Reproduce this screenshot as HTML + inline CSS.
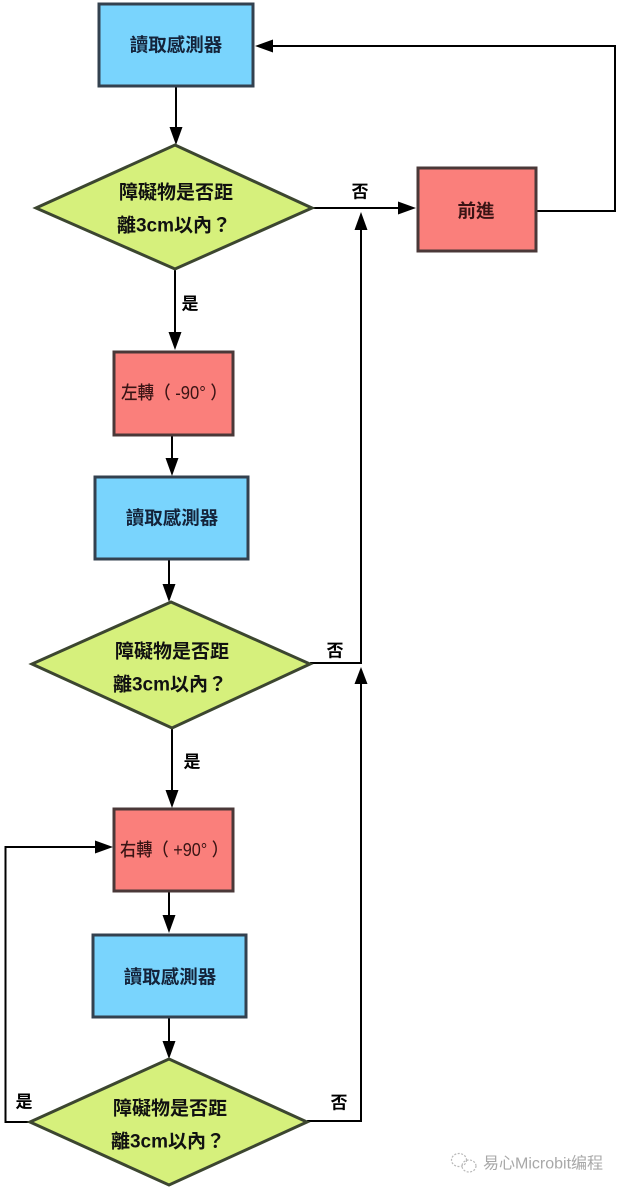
<!DOCTYPE html>
<html>
<head>
<meta charset="utf-8">
<style>
  html, body { margin:0; padding:0; background:#ffffff; }
  body { width:620px; height:1190px; overflow:hidden; }
  svg { display:block; }
  .t { font-family: "Liberation Sans", "Noto Sans CJK TC", "Noto Sans CJK SC", sans-serif; font-weight:bold; }
</style>
</head>
<body>
<svg width="620" height="1190" viewBox="0 0 620 1190" xmlns="http://www.w3.org/2000/svg">
  <rect x="0" y="0" width="620" height="1190" fill="#ffffff"/>

  <!-- Connectors -->
  <g stroke="#000" stroke-width="2" fill="none">
    <line x1="176" y1="86" x2="176" y2="130"/>
    <line x1="312" y1="208" x2="400" y2="208"/>
    <polyline points="536,211 615,211 615,46 270,46"/>
    <line x1="175" y1="269" x2="175" y2="335"/>
    <line x1="172" y1="435" x2="172" y2="461"/>
    <line x1="169" y1="559" x2="169" y2="587"/>
    <polyline points="310,663 361,663 361,228"/>
    <line x1="172" y1="728" x2="172" y2="793"/>
    <line x1="169" y1="891" x2="169" y2="918"/>
    <line x1="169" y1="1017" x2="169" y2="1044"/>
    <polyline points="307,1121 361,1121 361,683"/>
    <polyline points="30,1122 5.5,1122 5.5,847 97,847"/>
  </g>

  <!-- Arrowheads -->
  <g fill="#000">
    <polygon points="169.5,127 182.5,127 176,145"/>
    <polygon points="398,201.5 398,214.5 416,208"/>
    <polygon points="273,39.5 273,52.5 255,46"/>
    <polygon points="168.5,332 181.5,332 175,350"/>
    <polygon points="165.5,458 178.5,458 172,476"/>
    <polygon points="162.5,584 175.5,584 169,602"/>
    <polygon points="354.5,230 367.5,230 361,212"/>
    <polygon points="165.5,790 178.5,790 172,808"/>
    <polygon points="162.5,915 175.5,915 169,933"/>
    <polygon points="162.5,1041 175.5,1041 169,1059"/>
    <polygon points="354.5,684 367.5,684 361,667"/>
    <polygon points="95,840.5 95,853.5 113,847"/>
  </g>

  <!-- Nodes -->
  <rect x="99" y="4" width="154" height="82" fill="#79d4fd" stroke="#33414f" stroke-width="3"/>
  <polygon points="175,145 312,208 175,269 36,208" fill="#d6f07c" stroke="#3c4630" stroke-width="3"/>
  <rect x="418" y="168" width="118" height="83" fill="#fa7f7b" stroke="#4a3838" stroke-width="3"/>
  <rect x="114" y="352" width="119" height="83" fill="#fa7f7b" stroke="#4a3838" stroke-width="3"/>
  <rect x="95" y="477" width="153" height="82" fill="#79d4fd" stroke="#33414f" stroke-width="3"/>
  <polygon points="171,602 310,664 172,728 32,664" fill="#d6f07c" stroke="#3c4630" stroke-width="3"/>
  <rect x="114" y="809" width="119" height="82" fill="#fa7f7b" stroke="#4a3838" stroke-width="3"/>
  <rect x="93" y="935" width="153" height="82" fill="#79d4fd" stroke="#33414f" stroke-width="3"/>
  <polygon points="169,1059 307,1122 169,1185 30,1122" fill="#d6f07c" stroke="#3c4630" stroke-width="3"/>

  <!-- Node texts -->
  <g class="t" font-size="18.5" text-anchor="middle" dominant-baseline="central">
    <text x="176" y="45" fill="#14233a">讀取感測器</text>
    <text x="176" y="193" fill="#111" font-size="19">障礙物是否距</text>
    <text x="174" y="226" fill="#111" font-size="19">離3cm以內？</text>
    <text x="476" y="211" fill="#3a1414">前進</text>
    <text x="174" y="393" fill="#3a1414" font-weight="500" font-size="18" textLength="106" lengthAdjust="spacingAndGlyphs">左轉（ -90° ）</text>
    <text x="172" y="518" fill="#14233a">讀取感測器</text>
    <text x="172" y="652" fill="#111" font-size="19">障礙物是否距</text>
    <text x="170" y="685" fill="#111" font-size="19">離3cm以內？</text>
    <text x="174" y="850" fill="#3a1414" font-weight="500" font-size="18" textLength="108" lengthAdjust="spacingAndGlyphs">右轉（ +90° ）</text>
    <text x="170" y="977" fill="#14233a">讀取感測器</text>
    <text x="170" y="1109" fill="#111" font-size="19">障礙物是否距</text>
    <text x="168" y="1142" fill="#111" font-size="19">離3cm以內？</text>
  </g>

  <!-- Edge labels -->
  <g class="t" font-size="17" text-anchor="middle" dominant-baseline="central" fill="#000">
    <text x="360" y="192">否</text>
    <text x="190" y="304">是</text>
    <text x="335" y="651">否</text>
    <text x="192" y="762">是</text>
    <text x="24" y="1102">是</text>
    <text x="339" y="1103">否</text>
  </g>

  <!-- Watermark -->
  <g stroke="#b8b8b8" stroke-width="1.2" fill="none" stroke-dasharray="2,1.5">
    <ellipse cx="459" cy="1160" rx="7.5" ry="6.5"/>
    <ellipse cx="469" cy="1166" rx="7" ry="6"/>
  </g>
  <text x="483" y="1164" font-family="Liberation Sans, Noto Sans CJK SC, sans-serif" font-size="16" fill="#a8a8a8" dominant-baseline="central">易心Microbit编程</text>
</svg>
</body>
</html>
